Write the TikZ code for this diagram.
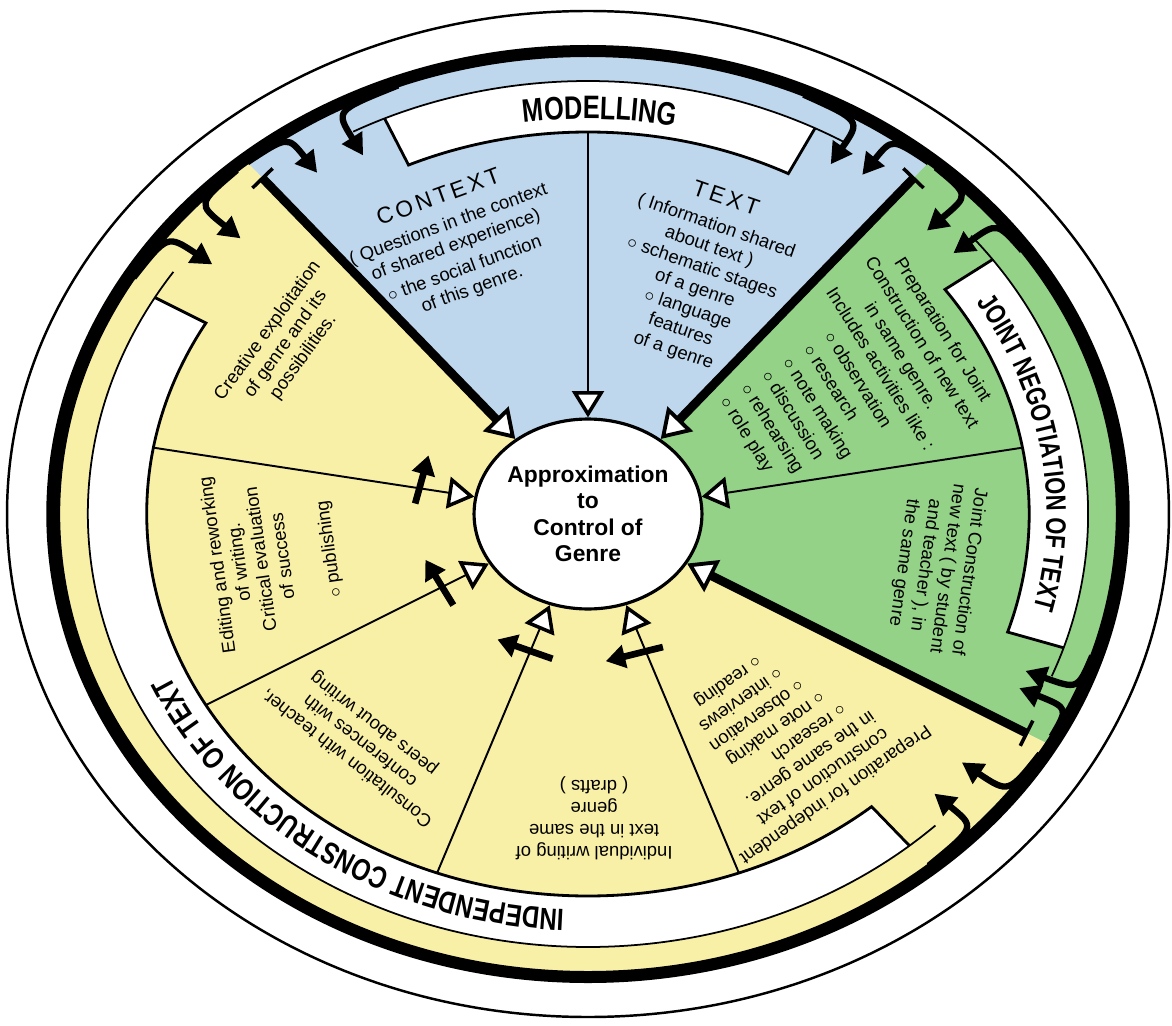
\documentclass[tikz,border=0pt]{standalone}
\usepackage{fontspec}
\setmainfont{Liberation Sans}
\newfontfamily\bodyfont{Liberation Sans}
\newfontfamily\bannerfont[FakeStretch=0.78]{Liberation Sans}
\newfontfamily\headfont[LetterSpace=15]{Liberation Sans}
\usetikzlibrary{arrows.meta, shapes.geometric, decorations.text}

\definecolor{modelblue}{RGB}{190,215,236}
\definecolor{jointgreen}{RGB}{148,210,136}
\definecolor{indepyellow}{RGB}{249,240,168}

\newcommand{\stagehead}[1]{{\headfont\fontsize{13}{13}\selectfont #1}}
\newcommand{\stagebullet}{$\circ$\ }

\begin{document}
\begin{tikzpicture}[
    x=0.02cm, y=0.02cm,
    font=\bodyfont\fontsize{10.5}{12.5}\selectfont,
    % Styles
    stagetext/.style={align=center, inner sep=0pt},
    bannerbox/.style={fill=white},
    banneredge/.style={draw, line width=1.6pt, line join=miter},
    bannerrim/.style={draw, line width=1pt},
    thinspoke/.style={line width=1.1pt, -{Triangle[length=15pt, width=18pt, fill=white, line width=2pt]}},
    thickspoke/.style={line width=5pt, {Bar[width=16pt, line width=2pt]}-{Triangle[length=16pt, width=20pt, fill=white, line width=2.2pt]}},
    ringhook/.style={line width=3.6pt, -{Triangle[length=12pt, width=13pt]}},
    crossflow/.style={line width=3.8pt, -{Triangle[length=11pt, width=13pt]}},
    bannertext/.style 2 args={decorate, decoration={text along path, text align=center,
        text={|\bannerfont\bfseries\fontsize{#1}{#1}\selectfont|#2}}}
]

    \useasboundingbox (-588,-511) rectangle (584,514);
    \fill[white] (-588,-511) rectangle (584,514);

    \begin{scope}[xscale=1.155]
    % --- SECTORS ---
    \fill[modelblue] (0,0) -- (50:463) arc[start angle=50, end angle=130, radius=463] -- cycle;
    \fill[jointgreen] (0,0) -- (-30:463) arc[start angle=-30, end angle=50, radius=463] -- cycle;
    \fill[indepyellow] (0,0) -- (130:463) arc[start angle=130, end angle=330, radius=463] -- cycle;

    % --- BANNERS ---
    % Modelling
    \fill[bannerbox] (114:382) arc[start angle=114, end angle=63, radius=382] -- (63:433) arc[start angle=63, end angle=114, radius=433] -- cycle;
    \draw[banneredge] (114:433) -- (114:382) arc[start angle=114, end angle=63, radius=382] -- (63:433);
    \draw[bannerrim] (118:433) arc[start angle=118, end angle=59, radius=433];
    % Joint negotiation
    \fill[bannerbox] (36:382) arc[start angle=36, end angle=-18, radius=382] -- (-18:433) arc[start angle=-18, end angle=36, radius=433] -- cycle;
    \draw[banneredge] (36:433) -- (36:382) arc[start angle=36, end angle=-18, radius=382] -- (-18:433);
    \draw[bannerrim] (40:433) arc[start angle=40, end angle=-22, radius=433];
    % Independent construction
    \fill[bannerbox] (150:382) arc[start angle=150, end angle=310, radius=382] -- (310:433) arc[start angle=310, end angle=150, radius=433] -- cycle;
    \draw[banneredge] (150:433) -- (150:382) arc[start angle=150, end angle=310, radius=382] -- (310:433);
    \draw[bannerrim] (146:433) arc[start angle=146, end angle=314, radius=433];

    % --- RING ARROWS ---
    \draw[ringhook] (130:459) .. controls (124.5:459) .. (124.5:414);
    \draw[ringhook] (111:459) .. controls (118.5:459) .. (118.5:408);
    \draw[ringhook] (131.5:459) .. controls (137.5:459) .. (137.5:408);
    \draw[ringhook] (149:459) .. controls (142.5:459) .. (142.5:410);
    \draw[ringhook] (66:459) .. controls (59:459) .. (59:408);
    \draw[ringhook] (50:459) .. controls (55:459) .. (55:414);
    \draw[ringhook] (49:459) .. controls (44:459) .. (44:408);
    \draw[ringhook] (35:459) .. controls (39.5:459) .. (39.5:410);
    \draw[ringhook] (-18:459) .. controls (-22.5:459) .. (-22.5:410);
    \draw[ringhook] (-29:459) .. controls (-25:459) .. (-25:412);
    \draw[ringhook] (-31.5:459) .. controls (-37.5:459) .. (-37.5:408);
    \draw[ringhook] (-50:459) .. controls (-43:459) .. (-43:410);

    % --- RINGS ---
    \draw[line width=1.4pt] (0,0) circle[radius=503];
    \fill[black, even odd rule] (0,0) circle[radius=469] (0,0) circle[radius=457];

    % --- SPOKE ENDS ---
    \coordinate (bar130) at (130:440);
    \coordinate (bar50) at (50:440);
    \coordinate (bar330) at (330:440);
    \coordinate (rim90) at (90:382);
    \coordinate (rim10) at (10:382);
    \coordinate (rim170) at (170:382);
    \coordinate (rim210) at (210:382);
    \coordinate (rim250) at (250:382);
    \coordinate (rim290) at (290:382);

    % --- STAGE TEXTS ---
    \node[stagetext, rotate=20] (context) at (113:294) {\stagehead{CONTEXT}\\[3pt]
        ( Questions in the context\\ of shared experience)\\[2pt]
        \stagebullet the social function\\ of this genre.};
    \node[stagetext, rotate=-19] (textinfo) at (68:258) {\stagehead{TEXT}\\[3pt]
        ( Information shared\\ about text )\\
        \stagebullet schematic stages\\ of a genre\\ \stagebullet language\\ features\\ of a genre};
    \node[stagetext, rotate=-58, font=\bodyfont\fontsize{10.5}{14}\selectfont] (jointprep) at (29:256) {Preparation for Joint\\ Construction of new text\\ in same genre.\\ Includes activities like :\\
        \begin{tabular}[t]{@{}l@{}}\stagebullet observation\\ \stagebullet research\\ \stagebullet note making\\ \stagebullet discussion\\ \stagebullet rehearsing\\ \stagebullet role play\end{tabular}};
    \node[stagetext, rotate=-98] (jointcons) at (-10:306) {Joint Construction of\\ new text ( by student\\ and teacher ), in\\ the same genre};
    \node[stagetext, rotate=54] (creative) at (147:312) {Creative exploitation\\ of genre and its\\ possibilities.};
    \node[stagetext, rotate=98] (editing) at (189:275) {Editing and reworking\\ of writing.\\ Critical evaluation\\ of success\\[14pt] \stagebullet publishing};
    \node[stagetext, rotate=142] (consult) at (229:300) {Consultation with teacher,\\ conferences with\\ peers about writing};
    \node[stagetext, rotate=180] (individual) at (271:304) {Individual writing of\\ text in the same\\ genre\\ ( drafts )};
    \node[stagetext, rotate=215] (indprep) at (309:278) {Preparation for independent\\ construction of text\\ in the same genre.\\
        \hspace*{10pt}\begin{tabular}[t]{@{}l@{}}\stagebullet research\\ \hspace*{6pt}\stagebullet note making\\ \hspace*{12pt}\stagebullet observation\\ \hspace*{18pt}\stagebullet interviews\\ \hspace*{24pt}\stagebullet reading\end{tabular}};

    % --- CROSSING ARROWS ---
    \draw[crossflow] (176:150) -- (157:150);
    \draw[crossflow] (218:148) -- (198:148);
    \draw[crossflow] (258:148) -- (238:148);
    \draw[crossflow] (296:148) -- (276:148);
    \end{scope}

    % --- CENTRE ---
    \node[ellipse, draw, fill=white, line width=1.8pt, minimum width=4.4cm, minimum height=3.8cm, inner sep=0pt, align=center,
        font=\normalfont\bfseries\fontsize{13}{15}\selectfont] (genre) at (0,0) {Approximation\\ to\\ Control of\\ Genre};

    % --- SPOKES ---
    \draw[thickspoke] (bar130) -- (genre);
    \draw[thickspoke] (bar50) -- (genre);
    \draw[thickspoke] (bar330) -- (genre);
    \draw[thinspoke] (rim90) -- (genre);
    \draw[thinspoke] (rim10) -- (genre);
    \draw[thinspoke] (rim170) -- (genre);
    \draw[thinspoke] (rim210) -- (genre);
    \draw[thinspoke] (rim250) -- (genre);
    \draw[thinspoke] (rim290) -- (genre);

    % --- BANNER LABELS ---
    \path[bannertext={18.5}{MODELLING}] ({1.155*395*cos(114)},{395*sin(114)}) arc[start angle=114, end angle=63, x radius=456.2, y radius=395];
    \path[bannertext={16}{JOINT NEGOTIATION OF TEXT}] ({1.155*397*cos(41)},{397*sin(41)}) arc[start angle=41, end angle=-23, x radius=458.5, y radius=397];
    \path[bannertext={17.5}{INDEPENDENT CONSTRUCTION OF TEXT}] ({1.155*396*cos(275)},{396*sin(275)}) arc[start angle=275, end angle=195, x radius=457.4, y radius=396];

\end{tikzpicture}
\end{document}
